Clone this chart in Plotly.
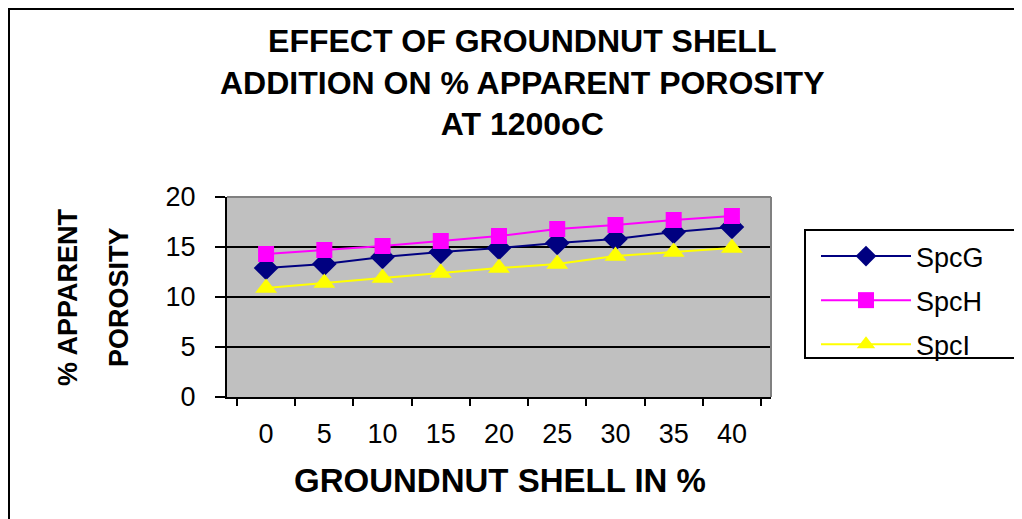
import plotly.graph_objects as go

# the html page keeps an 8px body margin, so the figure is drawn 8px in
OFF = 8
W, H = 1022 - OFF, 519 - OFF
ML, MR, MT, MB = 227 - OFF, 251, 197 - OFF, 122

shell_pct = ["0", "5", "10", "15", "20", "25", "30", "35", "40"]
spc_g = [12.9, 13.3, 14.0, 14.5, 14.9, 15.4, 15.8, 16.5, 17.0]
spc_h = [14.3, 14.7, 15.1, 15.6, 16.1, 16.8, 17.2, 17.7, 18.1]
spc_i = [10.9, 11.4, 11.9, 12.4, 12.9, 13.3, 14.1, 14.5, 14.9]

series = [
    ("SpcG", spc_g, "#000080", "diamond", 19),
    ("SpcH", spc_h, "#FF00FF", "square", 16),
    ("SpcI", spc_i, "#FFFF00", "triangle-up", 19),
]

pw, ph = W - ML - MR, H - MT - MB


def px_x(x):
    # page pixel -> paper coordinate
    return (x - OFF - ML) / pw


def px_y(y):
    return 1 - (y - OFF - MT) / ph


fig = go.Figure()
for name, vals, color, symbol, size in series:
    fig.add_trace(go.Scatter(
        x=shell_pct, y=vals, name=name, legendgroup=name,
        mode="lines+markers",
        line=dict(color=color, width=2),
        marker=dict(symbol=symbol, size=size, color=color),
    ))

font = "Liberation Sans, Arial, sans-serif"

title = "EFFECT OF GROUNDNUT SHELL<br>ADDITION ON % APPARENT POROSITY<br>AT 1200oC"
annotations = [dict(
    text=f"<b>{title}</b>", x=px_x(522), y=px_y(82),
    xref="paper", yref="paper", showarrow=False,
    xanchor="center", yanchor="middle",
    font=dict(family=font, size=32, color="black"),
)]
for line, cx in [("% APPARENT", 68), ("POROSITY", 119)]:
    annotations.append(dict(
        text=f"<b>{line}</b>", x=px_x(cx), y=px_y(297), textangle=-90,
        xref="paper", yref="paper", showarrow=False,
        xanchor="center", yanchor="middle",
        font=dict(family=font, size=27, color="black"),
    ))
annotations.append(dict(
    text="<b>GROUNDNUT SHELL IN %</b>", x=px_x(500), y=px_y(480),
    xref="paper", yref="paper", showarrow=False,
    xanchor="center", yanchor="middle",
    font=dict(family=font, size=33, color="black"),
))

shapes = [
    # outer chart frame (left and top only, picture is cropped)
    dict(type="line", xref="paper", yref="paper", x0=px_x(OFF), x1=px_x(1030),
         y0=px_y(OFF), y1=px_y(OFF), line=dict(color="black", width=4)),
    dict(type="line", xref="paper", yref="paper", x0=px_x(OFF), x1=px_x(OFF),
         y0=px_y(OFF), y1=px_y(530), line=dict(color="black", width=4)),
    # plot area top/right border
    dict(type="line", xref="paper", yref="paper", x0=0, x1=1, y0=1, y1=1,
         line=dict(color="#808080", width=2)),
    dict(type="line", xref="paper", yref="paper", x0=1, x1=1, y0=0, y1=1,
         line=dict(color="#808080", width=2)),
    # legend box
    dict(type="rect", xref="paper", yref="paper", x0=px_x(805), x1=px_x(1018),
         y0=px_y(358), y1=px_y(230), line=dict(color="black", width=2)),
]

fig.update_layout(
    width=W, height=H,
    margin=dict(l=ML, r=MR, t=MT, b=MB),
    paper_bgcolor="white",
    plot_bgcolor="#C0C0C0",
    font=dict(family=font, size=27, color="black"),
    annotations=annotations,
    shapes=shapes,
    legend=dict(
        x=px_x(816), y=px_y(232), xanchor="left", yanchor="top",
        bgcolor="rgba(0,0,0,0)", borderwidth=0,
        itemwidth=90, tracegroupgap=6, traceorder="grouped",
        font=dict(family=font, size=27),
    ),
)
fig.update_xaxes(
    type="category", tickson="boundaries",
    showline=True, linecolor="black", linewidth=2,
    ticks="outside", ticklen=7, tickwidth=2, tickcolor="black",
    ticklabelstandoff=12, showgrid=False,
    tickfont=dict(size=27),
)
fig.update_yaxes(
    range=[0, 20], tickvals=[0, 5, 10, 15, 20],
    showline=True, linecolor="black", linewidth=2,
    ticks="outside", ticklen=10, tickwidth=2, tickcolor="black",
    ticklabelstandoff=14,
    showgrid=True, gridcolor="black", gridwidth=2, zeroline=False,
    tickfont=dict(size=27),
)

fig.write_html("out.html")
